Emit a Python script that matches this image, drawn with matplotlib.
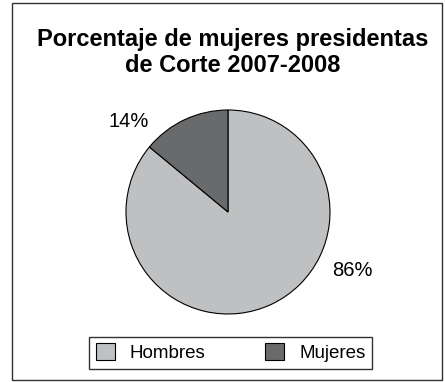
import matplotlib.pyplot as plt
from matplotlib.patches import Rectangle

# porcentaje de presidentes de corte por sexo
labels = ['Hombres', 'Mujeres']
values = [86, 14]
colors = ['#bfc0c2', '#696a6c']

plt.rcParams['font.family'] = ['Liberation Sans', 'DejaVu Sans']

fig = plt.figure(figsize=(4.45, 3.82), dpi=100)

# marco exterior
fig.patches.append(Rectangle((12/445, 2/382), 430/445, 377/382, transform=fig.transFigure,
                             fill=False, edgecolor='#333333', linewidth=1.0))

fig.text(0.522, 0.862, 'Porcentaje de mujeres presidentas\nde Corte 2007-2008',
         ha='center', va='center', fontsize=17, fontweight='bold', linespacing=1.15)

ax = fig.add_axes([126/445, 68/382, 204/445, 204/382])
wedges, _ = ax.pie(values, colors=colors, startangle=90, counterclock=False,
                   wedgeprops=dict(edgecolor='black', linewidth=0.8))
ax.set_xlim(-1, 1)
ax.set_ylim(-1, 1)
ax.set_aspect('equal')
ax.axis('off')

ax.text(1.22, -0.57, '%d%%' % values[0], ha='center', va='center', fontsize=14.5)
ax.text(-0.97, 0.89, '%d%%' % values[1], ha='center', va='center', fontsize=14.5)

leg = fig.legend(wedges, labels, loc='center', bbox_to_anchor=(0.518, 0.077), ncol=2,
                 fontsize=13.5, fancybox=False, edgecolor='black', handlelength=1.0,
                 handleheight=1.0, columnspacing=3.2, borderpad=0.35, handletextpad=0.8)
leg.get_frame().set_linewidth(1.0)

fig.savefig('out.png', dpi=100)
